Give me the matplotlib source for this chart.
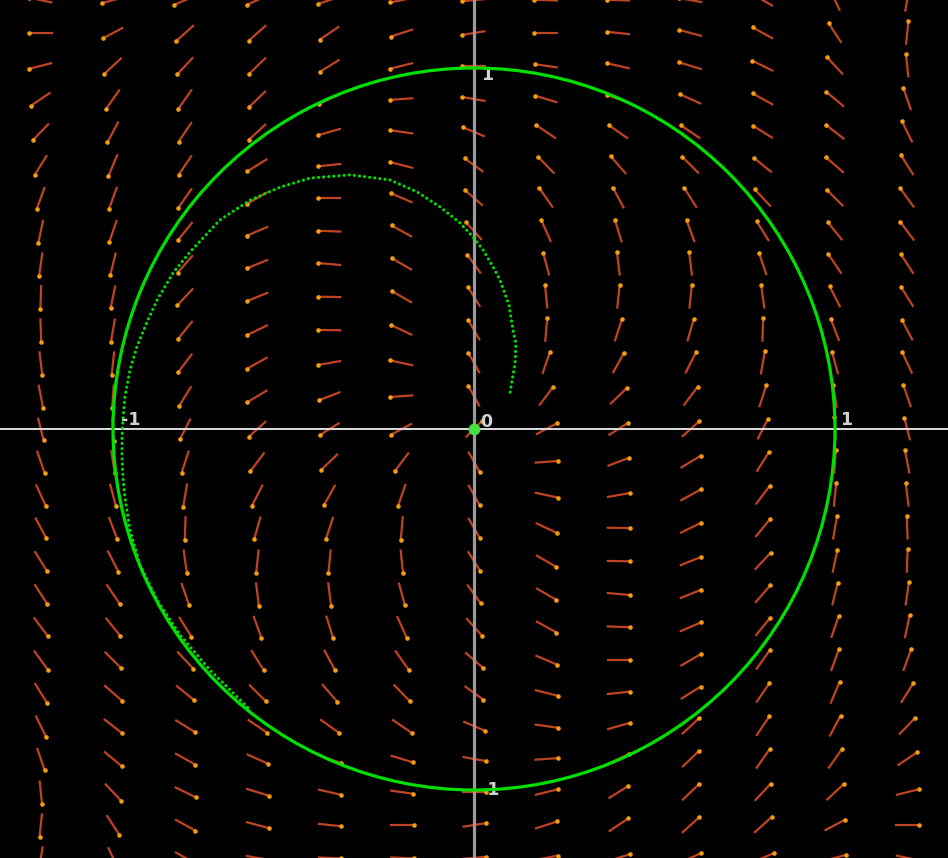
#!/usr/bin/env python3
"""
Phase portrait: direction field, unit-circle limit cycle and one spiral orbit.
Writes out.png (948x858).
"""
import matplotlib
matplotlib.use("Agg")
import matplotlib.pyplot as plt
from matplotlib.collections import LineCollection
import numpy as np

# grid of the direction field (data units)
FIELD_X = [-1.2, -1.0, -0.8, -0.6, -0.4, -0.2, 0.0, 0.2, 0.4, 0.6, 0.8, 1.0, 1.2]
# upper half rows, top edge down to the x axis
FIELD_Y_TOP = [1.188, 1.097, 1.006, 0.914, 0.823, 0.731, 0.640,
               0.548, 0.457, 0.366, 0.274, 0.183, 0.091, 0.0]

# direction of each segment (degrees, tail -> dot)
ANGLES_TOP = [
    [168, 195, 203, 204, 198, 191, 185, 178, 178, 170, 150, 115, 80],
    [180, 208, 222, 222, 214, 198, 189, 180, 174, 165, 151, 123, 84],
    [194, 223, 227, 224, 212, 194, 180, 172, 167, 163, 154, 133, 96],
    [214, 235, 235, 224, 205, 184, 170, 163, 160, 156, 151, 140, 109],
    [226, 242, 236, 223, 196, 172, 157, 146, 145, 146, 148, 142, 116],
    [238, 247, 236, 212, 186, 166, 144, 134, 131, 135, 141, 139, 122],
    [250, 250, 235, 210, 180, 157, 139, 125, 118, 122, 133, 135, 126],
    [258, 251, 231, 203, 178, 151, 132, 114, 107, 110, 122, 129, 127],
    [262, 256, 229, 202, 175, 150, 126, 105, 97, 97, 109, 124, 123],
    [268, 258, 227, 202, 179, 150, 122, 96, 84, 84, 98, 117, 122],
    [272, 260, 231, 206, 179, 155, 120, 85, 72, 74, 88, 111, 118],
    [277, 264, 233, 209, 190, 168, 119, 71, 61, 63, 80, 105, 115],
    [281, 266, 238, 211, 201, 184, 119, 53, 44, 53, 72, 99, 109],
    [284, 273, 243, 222, 212, 208, 45, 28, 32, 42, 63, 93, 104],
]

# spiral orbit, from its start near the origin out to the limit cycle
X_TRAJ = [0.100, 0.114, 0.116, 0.108, 0.097, 0.072, 0.050, 0.025, -0.003,
          -0.039, -0.094, -0.158, -0.233, -0.343, -0.454, -0.537, -0.620,
          -0.704, -0.787, -0.834, -0.878, -0.906, -0.934, -0.953, -0.967,
          -0.972, -0.975, -0.975, -0.972, -0.967, -0.953, -0.925, -0.878,
          -0.814, -0.731, -0.620]
Y_TRAJ = [0.102, 0.183, 0.238, 0.274, 0.343, 0.413, 0.454, 0.496, 0.532,
          0.571, 0.615, 0.657, 0.690, 0.704, 0.695, 0.670, 0.634, 0.579,
          0.490, 0.432, 0.357, 0.296, 0.227, 0.163, 0.089, 0.033, -0.022,
          -0.078, -0.141, -0.188, -0.280, -0.377, -0.474, -0.571, -0.668,
          -0.778]

# axis labels: (text, x, y)
LABELS = [("-1", -0.978, 0.011), ("0", 0.017, 0.006), ("1", 1.014, 0.011),
          ("1", 0.019, 0.967), ("-1", 0.017, -1.014)]

W, H = 948, 858
SCALE = 361.0  # pixels per unit
HALF = 0.0325  # half length of a field segment


def field_rows():
    # the field is point symmetric about the origin: the lower half is the
    # upper half turned by 180 degrees
    ys = list(FIELD_Y_TOP)
    rows = [list(r) for r in ANGLES_TOP]
    for y, r in zip(FIELD_Y_TOP[-2::-1], ANGLES_TOP[-2::-1]):
        ys.append(-y)
        rows.append([(a + 180) % 360 for a in r[::-1]])
    return ys, rows


def main() -> int:
    fig = plt.figure(figsize=(W / 100, H / 100), dpi=100)
    fig.patch.set_facecolor("black")
    ax = fig.add_axes([0, 0, 1, 1])
    ax.set_facecolor("black")
    ax.set_xlim(-W / 2 / SCALE, W / 2 / SCALE)
    ax.set_ylim(-H / 2 / SCALE, H / 2 / SCALE)
    ax.set_aspect("equal")
    ax.axis("off")

    ys, rows = field_rows()
    segs, heads = [], []
    for y, row in zip(ys, rows):
        for x, a in zip(FIELD_X, row):
            t = np.radians(a)
            dx, dy = HALF * np.cos(t), HALF * np.sin(t)
            segs.append([(x - dx, y - dy), (x + dx, y + dy)])
            heads.append((x + dx, y + dy))
    heads = np.array(heads)
    ax.add_collection(LineCollection(segs, colors="#bf4424", linewidths=1.6, zorder=2))
    ax.plot(heads[:, 0], heads[:, 1], "o", color="#f39c12", ms=3.3, mew=0, zorder=3)

    # coordinate axes
    ax.axhline(0, color="#dcdcdc", lw=1.4, zorder=4)
    ax.axvline(0, color="#9a9a9a", lw=2.3, zorder=4)

    for txt, x, y in LABELS:
        ax.text(x, y, txt, color="#d2d2d2", fontsize=12.5, fontweight="bold",
                ha="left", va="baseline", zorder=5)

    # orbit and limit cycle
    ax.plot(X_TRAJ, Y_TRAJ, color="#00dd00", lw=2.3, ls=(0, (0.01, 1.6)),
            dash_capstyle="round", zorder=6)
    ax.add_patch(plt.Circle((0, 0), 1.0, fill=False, color="#00e000", lw=2.3, zorder=7))
    ax.plot([0], [0], "o", color="#44dd44", ms=8.5, mew=0, zorder=8)

    fig.savefig("out.png", dpi=100, facecolor="black")
    plt.close(fig)
    return 0


if __name__ == "__main__":
    raise SystemExit(main())
